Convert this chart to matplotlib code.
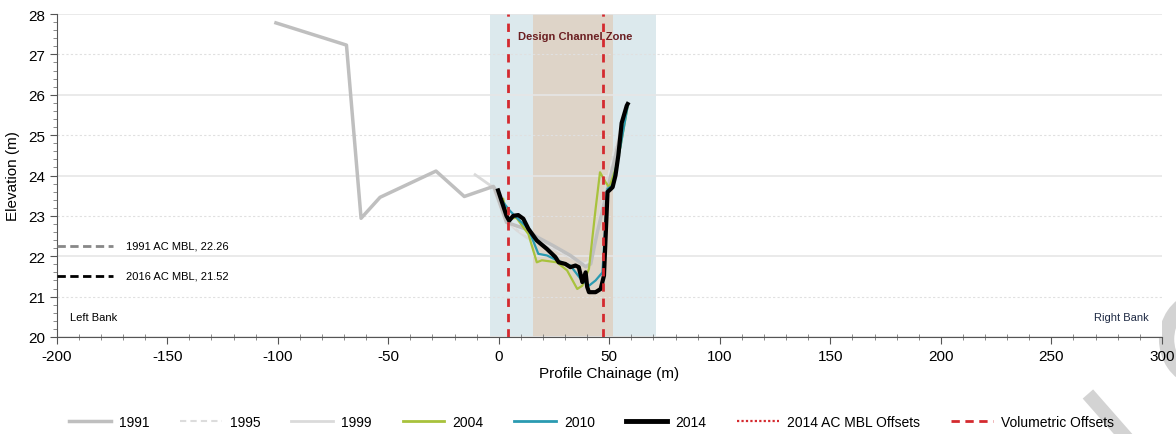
import matplotlib
matplotlib.use('Agg')
import matplotlib.pyplot as plt
from matplotlib.lines import Line2D
from matplotlib.patches import Arc

plt.rcParams['font.family'] = ['Liberation Sans', 'DejaVu Sans']
plt.rcParams['axes.unicode_minus'] = False

# survey profiles (chainage m, elevation m)
x_1991 = [-100.8, -68.9, -62.3, -53.7, -28.4, -15.6, -2.4, -1.8, 3.5, 11.9, 17.2, 24.7,
          32.4, 39.3, 41.6, 44.6, 49.2, 52.0, 55.0, 58.0]
y_1991 = [27.78, 27.23, 22.94, 23.46, 24.11, 23.48, 23.73, 23.67, 22.84, 22.68, 22.48, 22.26,
          22.02, 21.74, 21.81, 22.60, 23.67, 24.30, 25.00, 25.70]

x_1995 = [-2.0, 3.0, 10.0, 20.0, 30.0, 38.0, 42.0, 46.0, 52.0, 58.0]
y_1995 = [23.70, 22.90, 22.60, 22.35, 22.05, 21.80, 21.90, 23.00, 24.60, 25.70]

x_1999 = [-10.7, -2.4, 3.0, 8.0, 13.0, 20.0, 28.0, 35.0, 40.0, 43.0, 47.0, 52.0, 58.0]
y_1999 = [24.02, 23.70, 22.90, 22.65, 22.45, 22.30, 22.10, 21.90, 21.80, 22.20, 23.40, 24.50, 25.70]

x_2004 = [2.0, 4.2, 8.0, 13.4, 17.2, 19.5, 26.3, 30.9, 35.5, 37.8, 40.8, 43.8, 45.8, 48.4,
          50.0, 53.0, 55.0, 58.4]
y_2004 = [23.42, 22.93, 22.95, 22.55, 21.85, 21.90, 21.85, 21.65, 21.19, 21.27, 21.69, 23.17,
          24.08, 23.83, 23.70, 24.20, 24.70, 25.75]

x_2010 = [1.8, 5.0, 7.3, 13.4, 17.9, 21.8, 26.3, 32.4, 37.0, 40.8, 43.8, 46.9, 49.2, 51.5,
          53.0, 55.0, 58.4]
y_2010 = [23.35, 23.13, 23.00, 22.68, 22.06, 22.02, 21.90, 21.77, 21.44, 21.27, 21.40, 21.60,
          23.67, 23.75, 24.20, 24.70, 25.75]

x_2014 = [-0.3, 3.5, 4.7, 6.5, 8.8, 11.1, 13.4, 17.2, 21.8, 25.6, 27.1, 30.1, 32.4, 34.7,
          36.2, 37.8, 39.3, 40.0, 40.8, 43.8, 46.1, 47.6, 49.2, 51.5, 52.8, 54.1, 55.6, 57.9, 58.3]
y_2014 = [23.63, 23.00, 22.88, 23.00, 23.02, 22.93, 22.68, 22.39, 22.18, 21.98, 21.85, 21.81,
          21.73, 21.77, 21.73, 21.36, 21.60, 21.24, 21.11, 21.11, 21.19, 21.52, 23.59, 23.71,
          24.00, 24.50, 25.30, 25.73, 25.77]

# zones and offsets
blue_zone = (-4.1, 71.2)
design_zone = (15.5, 51.5)
offsets = [4.1, 47.3]
mbl_1991 = 22.26
mbl_2016 = 21.52

fig = plt.figure(figsize=(11.76, 4.35), dpi=100)
ax = fig.add_axes([0.0482, 0.223, 0.9398, 0.7425])

ax.axvspan(blue_zone[0], blue_zone[1], color='#dce9ed', zorder=0, lw=0)
ax.axvspan(design_zone[0], design_zone[1], color='#ded4c8', zorder=0, lw=0)

for v in [20, 22, 24, 26, 28]:
    ax.axhline(v, color='#e6e6e6', lw=1.2, zorder=0.5)
for v in [21, 23, 25, 27]:
    ax.axhline(v, color='#e0e0e0', lw=0.8, ls=(0, (2, 2)), zorder=0.5)

ax.plot(x_1999, y_1999, color='#dadada', lw=2, zorder=2)
ax.plot(x_1995, y_1995, color='#e3e3e3', lw=1.5, ls=(0, (3, 2)), zorder=2)
ax.plot(x_1991, y_1991, color='#bfbfbf', lw=2.5, zorder=2)
ax.plot(x_2004, y_2004, color='#a8c23c', lw=1.6, zorder=3)
ax.plot(x_2010, y_2010, color='#2a9ab1', lw=1.6, zorder=3)
ax.plot(x_2014, y_2014, color='black', lw=3, zorder=4)

for o in offsets:
    ax.axvline(o, color='#d42a2f', lw=2, ls=(0, (3, 2.5)), zorder=5)

ax.text(34.7, 27.45, 'Design Channel Zone', color='#6b1f22', fontsize=8, fontweight='bold',
        ha='center', va='center', zorder=6)

ax.plot([-200, -174.5], [mbl_1991, mbl_1991], color='#888888', lw=2, ls=(0, (3, 1.6)), zorder=5)
ax.plot([-200, -174.5], [mbl_2016, mbl_2016], color='black', lw=2, ls=(0, (3, 1.6)), zorder=5)
ax.text(-168.5, mbl_1991, '1991 AC MBL, 22.26', fontsize=8, va='center')
ax.text(-168.5, mbl_2016, '2016 AC MBL, 21.52', fontsize=8, va='center')
ax.text(-194, 20.5, 'Left Bank', fontsize=8, va='center')
ax.text(294, 20.5, 'Right Bank', fontsize=8, va='center', ha='right', color='#1f2a44')

ax.set_xlim(-200, 300)
ax.set_ylim(20, 28)
ax.set_xticks(range(-200, 301, 50))
ax.set_xticks(range(-200, 301, 10), minor=True)
ax.set_yticks(range(20, 29))
ax.set_yticks([20 + 0.2 * i for i in range(41)], minor=True)
ax.tick_params(labelsize=11, color='#555555', length=5)
ax.tick_params(axis='x', which='minor', direction='inout', length=4, color='#777777')
ax.tick_params(axis='y', which='minor', length=3, color='#777777')
ax.set_xlabel('Profile Chainage (m)', fontsize=11, labelpad=2)
ax.set_ylabel('Elevation (m)', fontsize=11, labelpad=6)
ax.spines['top'].set_visible(False)
ax.spines['right'].set_visible(False)
ax.spines['left'].set_color('#555555')
ax.spines['bottom'].set_color('#555555')

handles = [
    Line2D([], [], color='#bfbfbf', lw=2.5),
    Line2D([], [], color='#dcdcdc', lw=1.5, ls=(0, (3, 2))),
    Line2D([], [], color='#dadada', lw=2),
    Line2D([], [], color='#a8c23c', lw=2),
    Line2D([], [], color='#2a9ab1', lw=2),
    Line2D([], [], color='black', lw=3.5),
    Line2D([], [], color='#d42a2f', lw=1.6, ls=(0, (1, 1))),
    Line2D([], [], color='#d42a2f', lw=2, ls=(0, (3, 2))),
]
labels = ['1991', '1995', '1999', '2004', '2010', '2014', '2014 AC MBL Offsets', 'Volumetric Offsets']
fig.legend(handles, labels, loc='center', bbox_to_anchor=(0.503, 0.028), ncol=8, frameon=False,
           fontsize=10, handlelength=3.0, handletextpad=0.6, columnspacing=2.2)

# faint watermark fragments
fig.add_artist(Line2D([0.929, 0.955], [0.08, 0.0], transform=fig.transFigure,
                      color='#c8c8c8', lw=10, alpha=0.8, zorder=0))
fig.add_artist(Arc((1.022, 0.218), 0.06, 0.184, theta1=95, theta2=265,
                   transform=fig.transFigure, color='#c8c8c8', lw=11, alpha=0.8, zorder=0))

fig.savefig('out.png', dpi=100)
